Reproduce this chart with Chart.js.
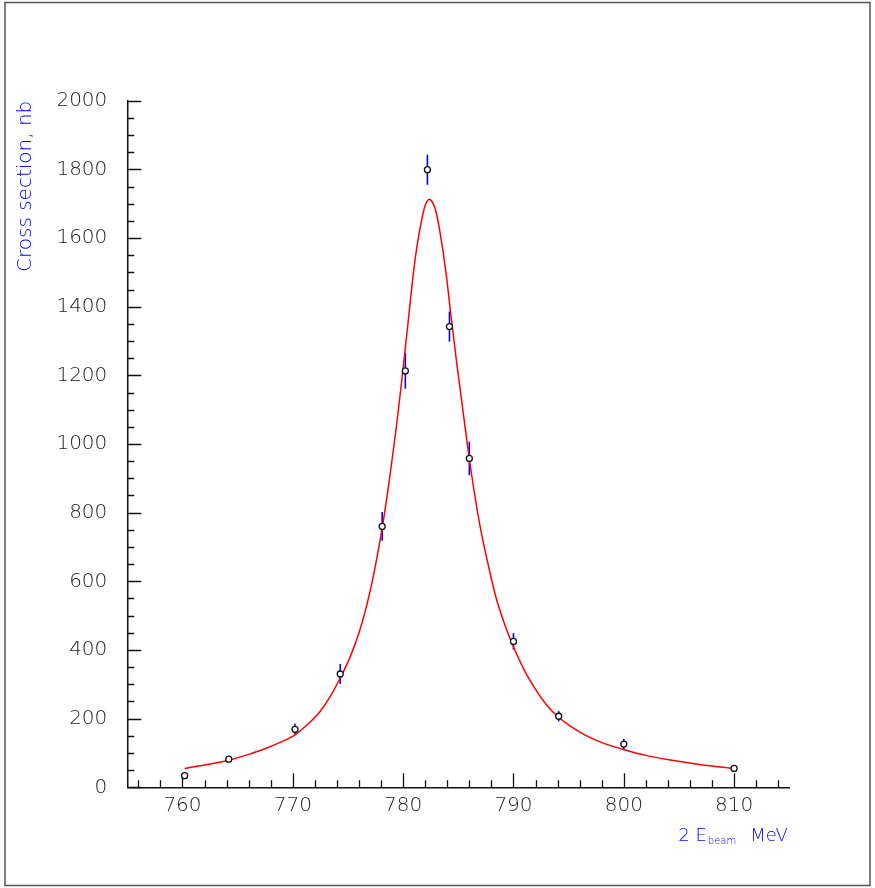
<!DOCTYPE html>
<html>
<head>
<meta charset="utf-8">
<script src="https://cdn.jsdelivr.net/npm/chart.js@4.4.0/dist/chart.umd.min.js"></script>
<style>
html, body { margin: 0; padding: 0; background: #fff; }
#wrap { width: 875px; height: 888px; position: relative; }
</style>
</head>
<body>
<div id="wrap"><canvas id="xsec-chart"></canvas></div>
<script>
// measured points: 2E_beam (MeV), cross section (nb), error (nb)
const energy = [760.2, 764.2, 770.2, 774.3, 778.1, 780.2, 782.2, 784.2, 786.0, 790.0, 794.1, 800.0, 810.0]
const xsec = [34, 82, 169, 330, 760, 1213, 1799, 1342, 958, 425, 207, 126, 55]
const xsec_err = [0, 7, 16, 29, 42, 52, 44, 44, 49, 24, 15, 15, 0]

// fitted curve
const fit_energy = [760.2, 762.0, 764.1, 766.0, 767.3, 768.8, 770.2, 771.4, 772.4, 773.4, 774.4, 775.2, 776.0, 776.7, 777.25, 777.7, 778.15, 778.75, 779.35, 779.75, 780.1, 780.5, 780.86, 781.15, 781.46, 781.9, 782.15, 782.37, 782.6, 782.8, 782.97, 783.43, 783.93, 784.33, 784.84, 785.33, 785.99, 786.5, 787.04, 787.7, 788.4, 789.2, 790.06, 791.0, 792.0, 793.0, 794.1, 795.3, 796.5, 798.2, 799.9, 802.0, 804.1, 807.0, 809.95]
const fit_xsec = [55, 65, 78, 96, 110, 130, 153, 185, 218, 265, 325, 380, 450, 530, 607, 682, 765, 895, 1040, 1150, 1250, 1370, 1478, 1553, 1615, 1685, 1706, 1713, 1707, 1694, 1678, 1600, 1487, 1375, 1240, 1120, 958, 850, 749, 650, 555, 475, 405, 340, 285, 240, 204, 175, 152, 128, 111, 93, 80, 66, 55]

const x_ticks = [760, 770, 780, 790, 800, 810]
const y_ticks = [0, 200, 400, 600, 800, 1000, 1200, 1400, 1600, 1800, 2000]

const label_font = { family: 'DejaVu Sans', size: 20, weight: '200' }

// vertical error bars under the markers
const error_bars = {
    id: 'error_bars',
    beforeDatasetsDraw(chart) {
        const ctx = chart.ctx
        const xs = chart.scales.x, ys = chart.scales.y
        ctx.save()
        ctx.strokeStyle = '#0000ff'
        ctx.lineWidth = 1.6
        for (let i = 0; i < energy.length; i++) {
            if (!xsec_err[i]) continue
            const px = xs.getPixelForValue(energy[i])
            ctx.beginPath()
            ctx.moveTo(px, ys.getPixelForValue(xsec[i] - xsec_err[i]))
            ctx.lineTo(px, ys.getPixelForValue(xsec[i] + xsec_err[i]))
            ctx.stroke()
        }
        ctx.restore()
    }
}

// tick marks pointing into the plot, long on labelled values
const inner_ticks = {
    id: 'inner_ticks',
    beforeDatasetsDraw(chart) {
        const ctx = chart.ctx
        const xs = chart.scales.x, ys = chart.scales.y
        const area = chart.chartArea
        ctx.save()
        ctx.strokeStyle = '#111'
        ctx.lineWidth = 1.3
        ctx.beginPath()
        for (let e = 756; e <= 814; e += 2) {
            const px = Math.round(xs.getPixelForValue(e)) + 0.5
            const len = e % 10 === 0 ? 14 : 7
            ctx.moveTo(px, area.bottom)
            ctx.lineTo(px, area.bottom - len)
        }
        for (let v = 0; v <= 2000; v += 50) {
            const py = Math.round(ys.getPixelForValue(v)) + 0.5
            const len = v % 200 === 0 ? 14 : 7
            ctx.moveTo(area.left, py)
            ctx.lineTo(area.left + len, py)
        }
        ctx.stroke()
        ctx.restore()
    }
}

// x axis title with subscript, and the outer frame
const decor = {
    id: 'decor',
    afterDraw(chart) {
        const ctx = chart.ctx
        const area = chart.chartArea
        ctx.save()
        ctx.fillStyle = '#0000ff'
        ctx.textBaseline = 'alphabetic'
        let x = area.right - 111
        const base = 840.5
        ctx.font = '200 18px "DejaVu Sans"'
        ctx.fillText('2 E', x, base)
        x += ctx.measureText('2 E').width + 1
        ctx.font = '200 10px "DejaVu Sans"'
        ctx.fillText('beam', x, base + 3.5)
        x += ctx.measureText('beam').width + 14
        ctx.font = '200 18px "DejaVu Sans"'
        ctx.fillText('MeV', x, base)

        ctx.strokeStyle = '#555'
        ctx.lineWidth = 1.5
        ctx.strokeRect(5, 2.5, 865, 883)
        ctx.restore()
    }
}

let ctx = document.getElementById('xsec-chart')

let data = {
    datasets: [{
        label: 'data',
        data: energy.map((e, i) => ({ x: e, y: xsec[i] })),
        pointRadius: 3,
        pointBorderWidth: 1.3,
        borderColor: '#111',
        backgroundColor: '#fff',
        showLine: false,
        order: 0
    },
    {
        label: 'fit',
        data: fit_energy.map((e, i) => ({ x: e, y: fit_xsec[i] })),
        showLine: true,
        borderColor: '#ff0000',
        borderWidth: 1.5,
        pointRadius: 0,
        cubicInterpolationMode: 'monotone',
        order: 1
    }]
}

let options = {
    responsive: true,
    maintainAspectRatio: false,
    animation: false,
    layout: {
        padding: { top: 100.7, right: 85.7, bottom: 0, left: 0 }
    },
    plugins: {
        legend: { display: false },
        tooltip: { enabled: false }
    },
    scales: {
        x: {
            type: 'linear',
            min: 755,
            max: 815,
            afterBuildTicks: s => { s.ticks = x_ticks.map(v => ({ value: v })) },
            afterFit: s => { s.height = 888 - 787.3 },
            grid: { display: false, drawTicks: false },
            border: { display: true, color: '#111', width: 1.5 },
            ticks: { padding: 6, font: label_font, color: '#222', maxRotation: 0, autoSkip: false, callback: v => String(v) }
        },
        y: {
            type: 'linear',
            min: 0,
            max: 2000,
            afterBuildTicks: s => { s.ticks = y_ticks.map(v => ({ value: v })) },
            afterFit: s => { s.width = 127.3 },
            grid: { display: false, drawTicks: false },
            border: { display: true, color: '#111', width: 1.5 },
            ticks: { padding: 20, font: label_font, color: '#222', autoSkip: false, callback: v => String(v) },
            title: {
                display: true,
                text: 'Cross section, nb',
                align: 'end',
                color: '#0000ff',
                font: { family: 'DejaVu Sans', size: 20, weight: '200' },
                padding: { top: 14, bottom: 0 }
            }
        }
    }
}

let xsec_chart = new Chart(ctx, {
    type: 'scatter',
    data: data,
    options: options,
    plugins: [error_bars, inner_ticks, decor]
})
</script>
</body>
</html>
